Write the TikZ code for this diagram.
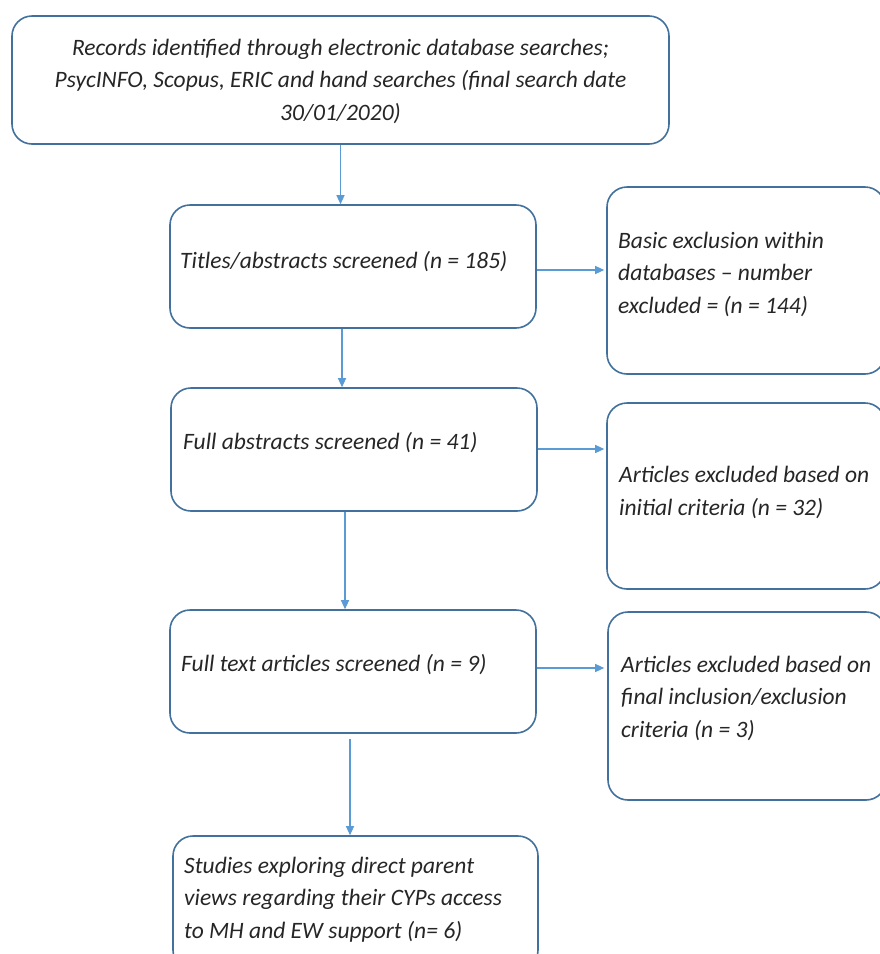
\documentclass[tikz,border=0pt]{standalone}
\usepackage{fontspec}
\setmainfont{Carlito}
\usetikzlibrary{arrows.meta}
\definecolor{boxline}{HTML}{41719C}
\definecolor{arrline}{HTML}{5B9BD5}
\definecolor{txt}{HTML}{262626}
\begin{document}
\begin{tikzpicture}[x=1pt,y=-1pt,
  box/.style={draw=boxline,line width=1.6pt,rounded corners=20pt,rectangle,inner sep=0pt},
  lbl/.style={inner sep=0pt,text=txt,font=\fontsize{23.5}{32.3}\selectfont\itshape,anchor=base west,align=left},
  arr/.style={draw=arrline,line width=1.2pt,-{Triangle[length=9pt,width=8pt]}}]
\clip (0,0) rectangle (880,954);
\fill[white] (0,0) rectangle (880,954);
% boxes
\node[box,minimum width=657pt,minimum height=128pt] (top) at (340.5,80) {};
\node[box,minimum width=366pt,minimum height=123pt] (b2) at (353,266.5) {};
\node[box,minimum width=278pt,minimum height=187pt] (r1) at (746,280.5) {};
\node[box,minimum width=366pt,minimum height=123pt] (b3) at (354,449.5) {};
\node[box,minimum width=278pt,minimum height=186pt] (r2) at (746,496) {};
\node[box,minimum width=366pt,minimum height=123pt] (b4) at (353,671.5) {};
\node[box,minimum width=278pt,minimum height=188pt] (r3) at (747,706) {};
\node[box,minimum width=365pt,minimum height=134pt] (b5) at (355.5,903) {};
% texts (anchor = baseline of last line)
\node[lbl,anchor=base,align=center] (ttop) at (340.5,120) {Records identified through electronic database searches;\\PsycINFO, Scopus, ERIC and hand searches (final search date\\30/01/2020)};
\node[lbl] (tb2) at (180,268) {Titles/abstracts screened (n = 185)};
\node[lbl] (tr1) at (618,313) {Basic exclusion within\\databases -- number\\excluded = (n = 144)};
\node[lbl] (tb3) at (183,449) {Full abstracts screened (n = 41)};
\node[lbl] (tr2) at (619,515) {Articles excluded based on\\initial criteria (n = 32)};
\node[lbl] (tb4) at (181,671) {Full text articles screened (n = 9)};
\node[lbl] (tr3) at (621,737) {Articles excluded based on\\final inclusion/exclusion\\criteria (n = 3)};
\node[lbl] (tb5) at (184,938) {Studies exploring direct parent\\views regarding their CYPs access\\to MH and EW support (n= 6)};
% connectors
\draw[arr] (top.south) -- (top.south |- b2.north);
\draw[arr] (b2.south -| 342,0) -- (b3.north -| 342,0);
\draw[arr] (b3.south -| 345,0) -- (b4.north -| 345,0);
\draw[arr] ([yshift=-5pt]b4.south -| 350,0) -- (b5.north -| 350,0);
\draw[arr] (b2.east |- 0,270) -- ([xshift=-2pt]r1.west |- 0,270);
\draw[arr] (b3.east |- 0,449) -- ([xshift=-2pt]r2.west |- 0,449);
\draw[arr] (b4.east |- 0,668) -- ([xshift=-3pt]r3.west |- 0,668);
\end{tikzpicture}
\end{document}
